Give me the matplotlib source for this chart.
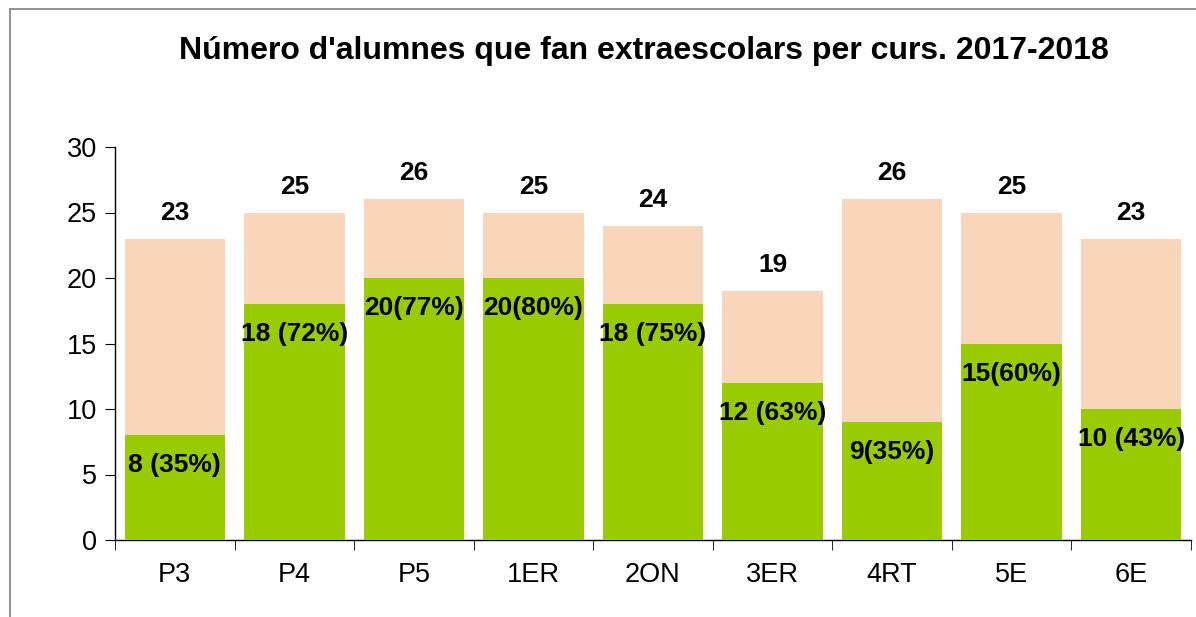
import matplotlib
matplotlib.use("Agg")
import matplotlib.pyplot as plt
from matplotlib.lines import Line2D

plt.rcParams['font.family'] = ['Liberation Sans', 'DejaVu Sans']

categories = ["P3", "P4", "P5", "1ER", "2ON", "3ER", "4RT", "5E", "6E"]
totals = [23, 25, 26, 25, 24, 19, 26, 25, 23]
extra = [8, 18, 20, 20, 18, 12, 9, 15, 10]
extra_labels = ["8 (35%)", "18 (72%)", "20(77%)", "20(80%)", "18 (75%)",
                "12 (63%)", "9(35%)", "15(60%)", "10 (43%)"]
yticks = [0, 5, 10, 15, 20, 25, 30]
title = "Número d'alumnes que fan extraescolars per curs. 2017-2018"

W, H = 1196, 617
fig = plt.figure(figsize=(W/100, H/100), dpi=100)
ax = fig.add_axes([115/W, 1-540/H, (1191-115)/W, (540-147)/H])

x = list(range(len(categories)))
bw = 0.84
ax.bar(x, totals, width=bw, color="#F9D6BA", zorder=2)
ax.bar(x, extra, width=bw, color="#99CC00", zorder=3)

for xi, t in zip(x, totals):
    ax.annotate(str(t), (xi, t), xytext=(0, 26), textcoords="offset pixels",
                ha="center", va="center", fontsize=19, fontweight="bold", zorder=5)
for xi, e, lab in zip(x, extra, extra_labels):
    ax.annotate(lab, (xi, e), xytext=(0, -30), textcoords="offset pixels",
                ha="center", va="center", fontsize=19, fontweight="bold", zorder=5)

ax.set_xlim(-0.5, len(categories)-0.5)
ax.set_ylim(0, 30)
ax.set_yticks(yticks)
ax.set_xticks(x)
ax.set_xticklabels(categories)
ax.set_xticks([i-0.5 for i in range(len(categories)+1)], minor=True)
ax.tick_params(axis='x', which='major', length=0, pad=16, labelsize=19.5)
ax.tick_params(axis='x', which='minor', length=7, direction='out')
ax.tick_params(axis='y', length=7, direction='out', pad=6, labelsize=19.5)
for s in ['top', 'right']:
    ax.spines[s].set_visible(False)
ax.spines['left'].set_linewidth(1)
ax.spines['bottom'].set_linewidth(1)

fig.text(644/W, 1-51/H, title, ha="center", va="center", fontsize=23, fontweight="bold")

fig.add_artist(Line2D([10/W, 10/W], [0, 1-9/H], color="#808080", lw=1.2, transform=fig.transFigure))
fig.add_artist(Line2D([10/W, 1], [1-9/H, 1-9/H], color="#808080", lw=1.2, transform=fig.transFigure))

fig.savefig("out.png", dpi=100)
